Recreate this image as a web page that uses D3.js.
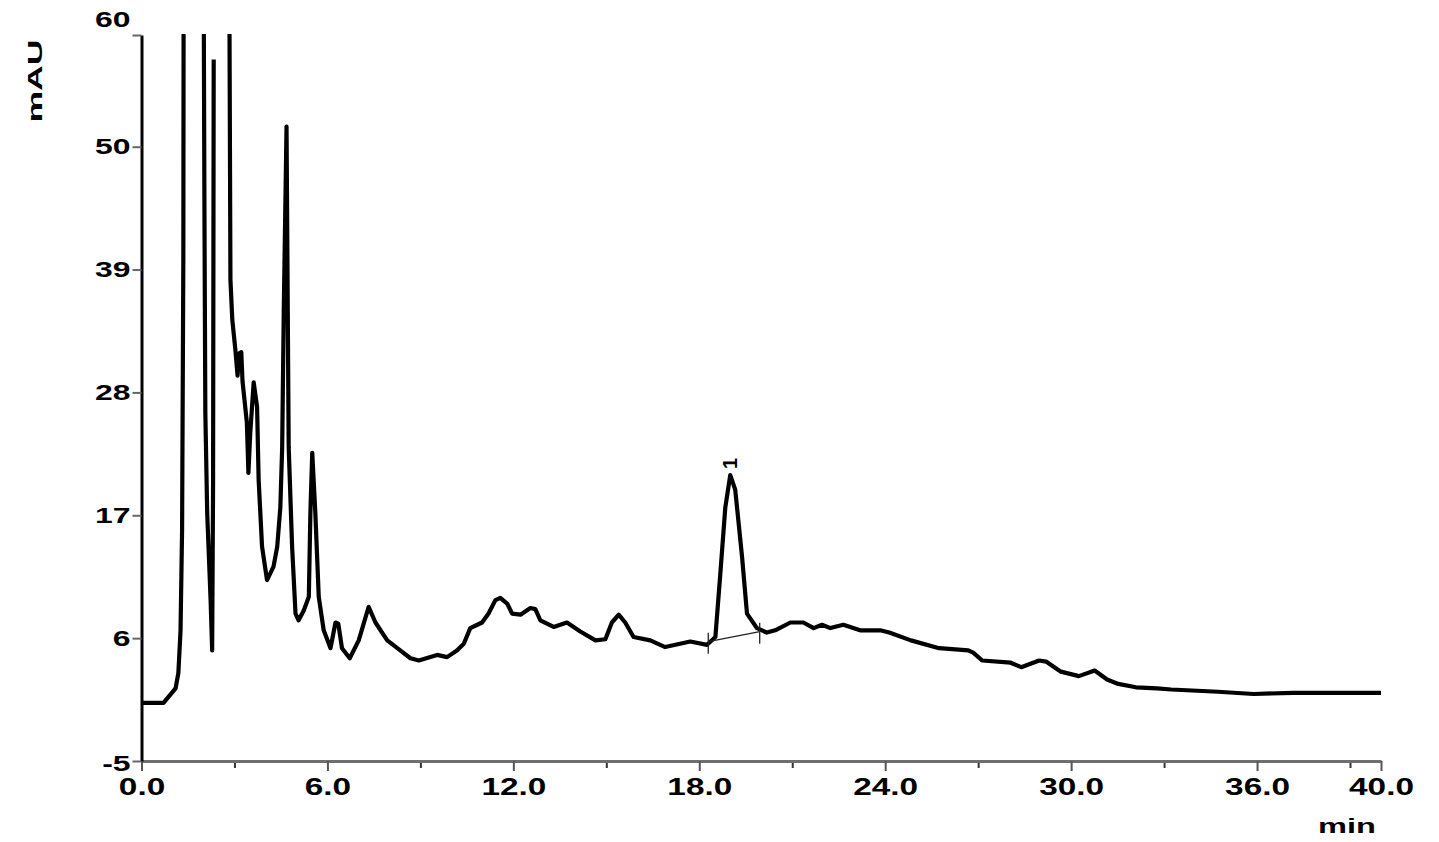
<!DOCTYPE html>
<html>
<head>
<meta charset="utf-8">
<script src="https://cdn.jsdelivr.net/npm/d3@7"></script>
<style>
  html, body { margin: 0; padding: 0; background: #fff; }
  svg { display: block; }
  text { font-family: "Liberation Sans", Arial, sans-serif; font-weight: bold; fill: #000; }
</style>
</head>
<body>
<svg id="chart" width="1439" height="842"></svg>
<script>
// ---- data ----
const timeMin = [
  0, 0.71, 0.83, 1.10, 1.19, 1.26, 1.31, 1.35, 1.37, 1.90, 1.98, 2.00, 2.03, 2.06, 2.12, 2.23, 2.28,
  2.31, 2.33, 2.34,
  2.80, 2.87, 2.93, 3.03, 3.10, 3.15, 3.22, 3.26, 3.40, 3.45, 3.51, 3.62, 3.73, 3.78, 3.89, 4.05,
  4.26, 4.38, 4.48, 4.54, 4.59, 4.68, 4.75, 4.86, 4.97, 5.07, 5.24, 5.40, 5.45, 5.51, 5.61, 5.72,
  5.88, 6.10, 6.26, 6.35, 6.47, 6.72, 7.01, 7.33, 7.55, 7.93, 8.35, 8.68, 8.95, 9.54, 9.86, 10.18,
  10.40, 10.61, 10.99, 11.20, 11.42, 11.58, 11.80, 11.96, 12.23, 12.55, 12.71, 12.87, 13.30, 13.73,
  14.16, 14.65, 14.97, 15.18, 15.40, 15.61, 15.88, 16.42, 16.90, 17.71, 18.25, 18.52, 18.68, 18.84,
  19.00, 19.16, 19.38, 19.54, 19.86, 20.18, 20.45, 20.94, 21.36, 21.69, 21.96, 22.23, 22.65, 23.19,
  23.84, 24.13, 24.83, 25.74, 26.68, 26.84, 27.13, 28.05, 28.39, 28.97, 29.19, 29.67, 30.25, 30.76,
  31.16, 31.52, 32.09, 32.77, 33.23, 34.74, 35.89, 37.16, 40.0
];
const mAU = [
  0.2, 0.2, 0.6, 1.5, 2.9, 6.7, 15.7, 40, 90, 95, 85, 70, 45, 26.2, 17.2, 9.4, 4.9,
  20, 57.8, null,
  90, 38.1, 34.5, 31.8, 29.5, 31.5, 31.6, 29.0, 25.3, 20.8, 24.4, 28.9, 26.7, 20.2, 14.2, 11.2,
  12.4, 14.2, 17.7, 23.1, 35.1, 51.8, 23.1, 14.2, 8.2, 7.6, 8.5, 9.7, 17.2, 22.6, 17.2, 9.7,
  6.7, 5.1, 7.4, 7.3, 5.1, 4.2, 5.8, 8.8, 7.4, 5.8, 4.9, 4.2, 4.0, 4.5, 4.3, 4.9,
  5.5, 6.9, 7.4, 8.2, 9.4, 9.6, 9.1, 8.2, 8.1, 8.7, 8.6, 7.6, 7.0, 7.4,
  6.6, 5.8, 5.9, 7.4, 8.1, 7.4, 6.1, 5.8, 5.2, 5.7, 5.4, 6.1, 11.8, 17.7,
  20.6, 19.3, 13.3, 8.2, 6.9, 6.5, 6.7, 7.4, 7.4, 6.9, 7.2, 6.9, 7.2, 6.7,
  6.7, 6.5, 5.8, 5.1, 4.9, 4.7, 4.0, 3.8, 3.4, 4.0, 3.9, 3.0, 2.6, 3.1,
  2.3, 1.9, 1.6, 1.5, 1.4, 1.2, 1.0, 1.1, 1.1
];
const yTicks = [-5, 6, 17, 28, 39, 50, 60];
const xMajorTicks = [0, 6, 12, 18, 24, 30, 36, 40];
const xMinorTicks = [3, 9, 15, 21, 27, 33, 39];
const peakLabels = ["1"];
const peakTimes = [19.0];
const peakHeights = [20.6];
const baselineTimes = [18.29, 19.95];
const baselineValues = [5.68, 6.58];

// ---- layout ----
const svg = d3.select("#chart");
const mL = 141.5, mR = 1381, mT = 35, mB = 761;
const x = d3.scaleLinear().domain([0, 40]).range([mL, mR]);
const y = d3.scaleLinear().domain([-5, 60]).range([mB, mT]);
const SX = 1.45; // wide lettering of the original

svg.append("defs").append("clipPath").attr("id", "plotclip")
  .append("rect").attr("x", mL).attr("y", mT - 1).attr("width", mR - mL + 5).attr("height", mB - mT + 1);

// x axis (minor ticks)
svg.append("g").attr("transform", `translate(0,${mB})`)
  .call(d3.axisBottom(x).tickValues(xMinorTicks).tickSize(7).tickSizeOuter(0).tickFormat(""))
  .call(g => g.select(".domain").remove())
  .call(g => g.selectAll("line").attr("stroke", "#333").attr("stroke-width", 2));

// x axis (major)
const gx = svg.append("g").attr("transform", `translate(0,${mB})`)
  .call(d3.axisBottom(x).tickValues(xMajorTicks).tickSize(10).tickSizeOuter(0).tickFormat(d3.format(".1f")));
gx.select(".domain").attr("stroke", "#6f6f6f").attr("stroke-width", 3);
gx.selectAll(".tick line").attr("stroke", "#555").attr("stroke-width", 2);
gx.selectAll(".tick text")
  .attr("y", 34).attr("dy", 0)
  .attr("font-size", 23).attr("font-family", "Liberation Sans, Arial, sans-serif").attr("font-weight", "bold")
  .attr("transform", `scale(${SX},1)`);

// y axis
const gy = svg.append("g").attr("transform", `translate(${mL},0)`)
  .call(d3.axisLeft(y).tickValues(yTicks).tickSize(9).tickSizeOuter(0).tickFormat(d => d));
gy.select(".domain").attr("stroke", "#000").attr("stroke-width", 3);
gy.selectAll(".tick line").attr("stroke", "#666").attr("stroke-width", 2);
gy.selectAll(".tick text")
  .attr("x", -11 / SX).attr("dy", "0.33em")
  .attr("font-size", 22).attr("font-family", "Liberation Sans, Arial, sans-serif").attr("font-weight", "bold")
  .attr("transform", `scale(${SX},1)`);
gy.selectAll(".tick").filter(d => d === 60).select("text").attr("dy", "-0.4em");
gy.selectAll(".tick").filter(d => d === -5).select("text").attr("dy", "0.42em");

// axis titles
svg.append("text")
  .attr("transform", `translate(42,81) rotate(-90) scale(1.7,1)`)
  .attr("text-anchor", "middle")
  .attr("font-size", 21)
  .text("mAU");
svg.append("text")
  .attr("transform", `translate(1347,833) scale(1.55,1)`)
  .attr("text-anchor", "middle")
  .attr("font-size", 21)
  .text("min");

// chromatogram trace
const pts = timeMin.map((t, i) => ({ t, v: mAU[i] }));
const line = d3.line()
  .defined(d => d.v !== null)
  .x(d => x(d.t)).y(d => y(d.v));
svg.append("path")
  .datum(pts)
  .attr("clip-path", "url(#plotclip)")
  .attr("fill", "none")
  .attr("stroke", "#000")
  .attr("stroke-width", 4.2)
  .attr("stroke-linejoin", "round")
  .attr("d", line);

// integration baseline for peak 1
const base = baselineTimes.map((t, i) => ({ t, v: baselineValues[i] }));
svg.append("path")
  .datum(base)
  .attr("fill", "none").attr("stroke", "#222").attr("stroke-width", 1.3)
  .attr("d", d3.line().x(d => x(d.t)).y(d => y(d.v)));
svg.selectAll(".bmark").data(base).enter().append("line")
  .attr("x1", d => x(d.t)).attr("x2", d => x(d.t))
  .attr("y1", d => y(d.v) - 9).attr("y2", d => y(d.v) + 12)
  .attr("stroke", "#222").attr("stroke-width", 1.3);

// peak label
svg.selectAll(".plabel").data(peakLabels).enter().append("text")
  .attr("transform", (d, i) => `translate(${x(peakTimes[i]) + 7},${y(peakHeights[i]) - 6}) rotate(-90)`)
  .attr("font-size", 20)
  .text(d => d);
</script>
</body>
</html>
